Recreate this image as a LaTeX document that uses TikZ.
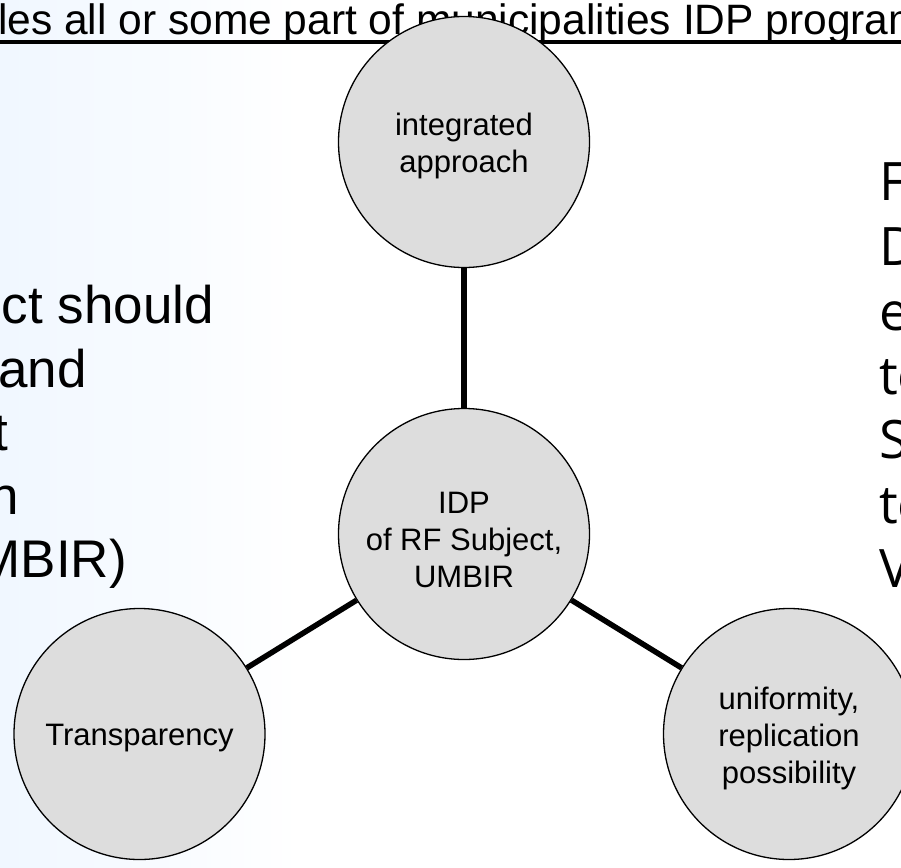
\documentclass[tikz,border=0pt]{standalone}
\usepackage{fontspec}
\setmainfont{Liberation Sans}
\newfontfamily\rightfont{Open Sans}
\definecolor{bgblue}{RGB}{240,247,255}
\definecolor{circfill}{RGB}{221,221,221}
\tikzset{
  circ/.style={circle, draw=black, line width=1.3pt, fill=circfill, minimum size=251pt,
    inner sep=0pt},
  ctext/.style={inner sep=0pt, align=center, font=\fontsize{31}{37}\selectfont},
  conn/.style={draw=black, line width=5.5pt},
  bigtext/.style={inner sep=0pt, font=\fontsize{53}{63}\selectfont},
  rtext/.style={inner sep=0pt, anchor=base west, font=\rightfont\fontsize{53}{64}\selectfont}
}
\begin{document}
\begin{tikzpicture}[x=1pt, y=-1pt]
\useasboundingbox (0,0) rectangle (901,867);
% background
\shade[left color=bgblue, right color=white] (0,0) rectangle (300,867);
% header
\node[anchor=base west, inner sep=0pt, font=\fontsize{42.5}{50}\selectfont] (hdr) at (-2,35)
  {les all or some part of municipalities IDP programs};
\coordinate (ulA) at (0,42);
\coordinate (ulB) at (901,42);
\draw[line width=3.5pt] (ulA) -- (ulB);
% circles
\node[circ] (top) at (464,142) {};
\node[circ] (mid) at (464,534) {};
\node[circ] (left) at (139.5,734) {};
\node[circ] (right) at (789,734) {};
\node[ctext] (ttop) at ([yshift=-4pt]top.center) {integrated\\approach};
\node[ctext] (tmid) at ([yshift=-6pt]mid.center) {IDP\\of RF Subject,\\UMBIR};
\node[ctext] (tleft) at ([yshift=-4pt]left.center) {Transparency};
\node[ctext] (tright) at ([yshift=-4pt]right.center) {uniformity,\\replication\\possibility};
% connectors
\draw[conn] (top) -- (mid);
\draw[conn] (mid) -- (left);
\draw[conn] (mid) -- (right);
% left text (clipped by page edge)
\node[bigtext, anchor=base east] (l1) at (214,323) {ct should};
\node[bigtext, anchor=base east] (l2) at (87,387) {and};
\node[bigtext, anchor=base east] (l3) at (8,450) {t};
\node[bigtext, anchor=base east] (l4) at (19,514) {n};
\node[bigtext, anchor=base east] (l5) at (127,577) {MBIR)};
% right text (clipped by page edge)
\node[rtext] (r1) at (879,200) {F};
\node[rtext] (r2) at (879,265) {D};
\node[rtext] (r3) at (879,330) {e};
\node[rtext] (r4) at (879,394) {to};
\node[rtext] (r5) at (879,458) {S};
\node[rtext] (r6) at (879,523) {to};
\node[rtext] (r7) at (879,587) {V};
\end{tikzpicture}
\end{document}
